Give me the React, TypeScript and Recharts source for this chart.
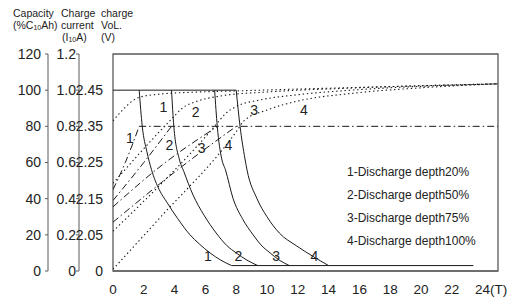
import React from 'react';
import { ComposedChart, Line, XAxis, YAxis, ReferenceArea, ReferenceDot } from 'recharts';

type P = { t: number; v: number };
const mk = (pairs: number[][]): P[] => pairs.map(([t, v]) => ({ t, v }));

// x ticks (hours)
const xTicks = [0, 2, 4, 6, 8, 10, 12, 14, 16, 18, 20, 22, 24];
// left axes (all share the 0-120 capacity scale)
const capTicks = [0, 20, 40, 60, 80, 100, 120];
const capLabels = ['0', '20', '40', '60', '80', '100', '120'];
const curLabels = ['0', '0.2', '0.4', '0.6', '0.8', '1.0', '1.2'];
const voltTicks = [0, 20, 40, 60, 80, 100];
const voltLabels = ['0', '2.05', '2.15', '2.25', '2.35', '2.45'];

// charge current (solid), expressed on the capacity scale (1.0 = 100)
const currentTop = mk([[0, 100], [8.0, 100]]);
const currentBottom = mk([[7.7, 3], [23.4, 3]]);
const current1 = mk([[1.7, 100], [1.9, 80], [2.2, 66], [2.5, 56], [3, 45], [3.5, 38], [4.2, 29], [5.0, 20], [5.6, 15], [6.3, 10], [7, 6], [7.7, 3]]);
const current2 = mk([[3.8, 100], [3.95, 80], [4.3, 62], [4.6, 55], [5.2, 42], [5.9, 31], [6.7, 21], [7.4, 14], [8.0, 10], [8.7, 6], [9.4, 3]]);
const current3 = mk([[6.6, 100], [6.77, 80], [7.06, 62], [7.3, 56], [7.8, 40], [8.4, 29], [9.1, 20], [9.6, 14.5], [10.2, 10], [10.8, 6], [11.45, 3]]);
const current4 = mk([[8.0, 100], [8.25, 80], [8.57, 62], [8.7, 56], [9.35, 40], [10.0, 30], [10.8, 21], [11.9, 14], [13, 8], [14, 3]]);

// charge voltage (dash-dot), 2.35 V at level 80
const voltFlat = mk([[1.7, 80], [25, 80]]);
const volt1 = mk([[0, 45], [0.8, 60], [1.7, 80]]);
const volt2 = mk([[0, 39], [2, 60], [3.8, 80]]);
const volt3 = mk([[0, 35.5], [3.4, 60], [6.8, 80]]);
const volt4 = mk([[0, 27], [4.2, 56], [8.0, 80]]);

// capacity (dotted)
const cap1 = mk([[0, 83], [1.7, 96], [3, 97.8], [5, 98.8], [8, 99.6], [12, 100.6], [18, 102], [25, 103.5]]);
const cap2 = mk([[0, 48.5], [3.8, 84], [4.5, 90], [5.5, 94], [7, 96.8], [10, 99], [15, 101], [25, 103.5]]);
const cap3 = mk([[0, 22], [6.6, 80], [7.3, 87], [8, 91], [9.5, 94.5], [12, 97.5], [16, 100.3], [25, 103.5]]);
const cap4 = mk([[0, 1], [3, 29], [8, 77], [8.5, 83], [10, 89], [12, 94], [15.6, 98.3], [20, 101.3], [25, 103.5]]);

// curve number annotations
const curveLabels = [
  { t: 6.17, v: 8.3, s: '1' }, { t: 8.14, v: 8.3, s: '2' }, { t: 10.6, v: 8.3, s: '3' }, { t: 13.07, v: 8.3, s: '4' },
  { t: 3.27, v: 90.9, s: '1' }, { t: 5.37, v: 88.1, s: '2' }, { t: 9.16, v: 89.0, s: '3' }, { t: 12.4, v: 89.0, s: '4' },
  { t: 1.1, v: 73.4, s: '1' }, { t: 3.66, v: 69.7, s: '2' }, { t: 5.76, v: 67.9, s: '3' }, { t: 7.49, v: 69.7, s: '4' },
];
const legendLines = ['1-Discharge depth20%', '2-Discharge depth50%', '3-Discharge depth75%', '4-Discharge depth100%'];

const FONT = "'Liberation Sans', Arial, sans-serif";
const INK = '#1a1a1a';
const GRAY = '#5a5a5a';
const DOT = '1.4 2.8';
const DASHDOT = '7 3 1.5 3';

// axis ids: alphabetical order runs from the plot outward
const VOLT = 'a_volt';
const CUR = 'b_cur';
const CAP = 'c_cap';

const XTick = (props: any) => {
  const { x, y, payload } = props;
  const v = payload.value;
  if (v === 24) {
    return <text x={x - 7.5} y={y} dy="0.71em" textAnchor="start" fontSize={13.5} fontFamily={FONT} fill="#222">24(T)</text>;
  }
  return <text x={x} y={y} dy="0.71em" textAnchor="middle" fontSize={13.5} fontFamily={FONT} fill="#222">{v}</text>;
};

const tickStyle = { fontSize: 14, fontFamily: FONT, fill: '#222' };

export default function App() {
  const solid = [currentTop, currentBottom, current1, current2, current3, current4];
  const dashdot = [voltFlat, volt1, volt2, volt3, volt4];
  const dotted = [cap1, cap2, cap3, cap4];
  return (
    <div style={{ position: 'absolute', left: 0, top: 0, width: 519, height: 301, background: '#fff' }}>
      <ComposedChart width={519} height={301} margin={{ top: 54, right: 21, bottom: 0, left: 0 }}>
        <XAxis dataKey="t" type="number" domain={[0, 25]} ticks={xTicks} allowDataOverflow
          height={30} tickLine={false} tickSize={6} tickMargin={7} stroke={GRAY} tick={<XTick />} />
        <YAxis yAxisId={VOLT} type="number" domain={[0, 120]} allowDataOverflow ticks={voltTicks} width={34}
          tickFormatter={(v: number) => voltLabels[voltTicks.indexOf(v)]}
          tickLine={false} axisLine={false} tickMargin={4} tick={tickStyle} />
        <YAxis yAxisId={CUR} type="number" domain={[0, 120]} allowDataOverflow ticks={capTicks} width={31}
          tickFormatter={(v: number) => curLabels[capTicks.indexOf(v)]}
          tickSize={3} tickMargin={0} stroke={GRAY} tick={tickStyle} />
        <YAxis yAxisId={CAP} type="number" domain={[0, 120]} allowDataOverflow ticks={capTicks} width={48}
          tickFormatter={(v: number) => capLabels[capTicks.indexOf(v)]}
          tickSize={3} tickMargin={4} stroke={GRAY} tick={tickStyle} />
        <ReferenceArea yAxisId={CAP} x1={0} x2={25} y1={0} y2={120} fill="none" stroke={GRAY} strokeWidth={1.3} ifOverflow="visible" />
        {dotted.map((d, i) => (
          <Line key={'c' + i} yAxisId={CAP} data={d} dataKey="v" type="monotone" stroke={INK} strokeWidth={1.1}
            strokeDasharray={DOT} dot={false} activeDot={false} isAnimationActive={false} />
        ))}
        {dashdot.map((d, i) => (
          <Line key={'v' + i} yAxisId={VOLT} data={d} dataKey="v" type="monotone" stroke={INK} strokeWidth={1}
            strokeDasharray={DASHDOT} dot={false} activeDot={false} isAnimationActive={false} />
        ))}
        {solid.map((d, i) => (
          <Line key={'s' + i} yAxisId={CUR} data={d} dataKey="v" type="monotone" stroke={INK} strokeWidth={1}
            dot={false} activeDot={false} isAnimationActive={false} />
        ))}
        {curveLabels.map((l, i) => (
          <ReferenceDot key={'l' + i} yAxisId={CAP} x={l.t} y={l.v} r={0} fill="none" stroke="none"
            label={{ value: l.s, position: 'center', fontSize: 14, fontFamily: FONT, fill: '#222' }} />
        ))}
      </ComposedChart>
      <svg width={519} height={301} style={{ position: 'absolute', left: 0, top: 0, pointerEvents: 'none' }}>
        <g fontFamily={FONT} fontSize={10.5} fill="#222">
          <text x={13} y={17}>Capacity</text>
          <text x={13} y={29}>(%C<tspan fontSize={7} dy={1}>10</tspan><tspan dy={-1}>Ah)</tspan></text>
          <text x={61} y={17}>Charge</text>
          <text x={61} y={29}>current</text>
          <text x={62} y={41}>(I<tspan fontSize={7} dy={1}>10</tspan><tspan dy={-1}>A)</tspan></text>
          <text x={101} y={17}>charge</text>
          <text x={101} y={29}>VoL.</text>
          <text x={101} y={41}>(V)</text>
        </g>
        <g fontFamily={FONT} fontSize={12} fill="#222">
          {legendLines.map((s, i) => (
            <text key={s} x={347} y={176 + i * 23}>{s}</text>
          ))}
        </g>
      </svg>
    </div>
  );
}
